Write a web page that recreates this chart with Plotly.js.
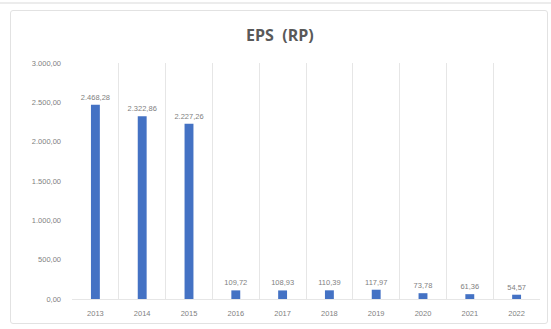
<!DOCTYPE html>
<html>
<head>
<meta charset="utf-8">
<script src="https://cdn.plot.ly/plotly-3.0.1.min.js"></script>
<style>
  html, body { margin: 0; padding: 0; background: #ffffff; }
  #wrap { position: relative; width: 551px; height: 329px; overflow: hidden; }
  #topline { position: absolute; left: 0; top: 2px; width: 551px; height: 2px; background: #ececec; }
  #card { position: absolute; left: 10px; top: 10px; width: 536px; height: 312px;
          border: 1px solid #e2e2e2; border-radius: 3px; background: #ffffff; }
  #chart { position: absolute; left: 0; top: 0; width: 551px; height: 329px; }
</style>
</head>
<body>
<div id="wrap">
  <div id="topline"></div>
  <div id="card"></div>
  <div id="chart"></div>
</div>
<script>
// Earnings per share by year (Rupiah)
const years = ["2013", "2014", "2015", "2016", "2017", "2018", "2019", "2020", "2021", "2022"];
const eps = [2468.28, 2322.86, 2227.26, 109.72, 108.93, 110.39, 117.97, 73.78, 61.36, 54.57];
const yTicks = [0, 500, 1000, 1500, 2000, 2500, 3000];

const smallFont = { family: "Liberation Sans, Arial, sans-serif", size: 7.5, color: "#7f7f7f" };

const trace = {
  type: "bar",
  x: years,
  y: eps,
  marker: { color: "#4472C4" },
  texttemplate: "%{y:,.2f}",
  textposition: "outside",
  constraintext: "none",
  cliponaxis: false,
  textfont: smallFont,
  hoverinfo: "x+y"
};

const layout = {
  width: 551,
  height: 329,
  paper_bgcolor: "rgba(0,0,0,0)",
  plot_bgcolor: "rgba(0,0,0,0)",
  separators: ",.",
  margin: { l: 72, r: 11, t: 63, b: 30 },
  bargap: 0.81,
  showlegend: false,
  title: {
    text: "EPS&nbsp;&nbsp;(RP)",
    x: 0.508,
    xanchor: "center",
    y: 0.893,
    yanchor: "middle",
    font: { family: "Open Sans, DejaVu Sans, sans-serif", size: 16, color: "#595959", weight: 700 }
  },
  xaxis: {
    type: "category",
    tickson: "boundaries",
    showgrid: true,
    gridcolor: "#e6e6e6",
    gridwidth: 1,
    ticks: "",
    showline: false,
    zeroline: false,
    ticklabelstandoff: 8,
    tickfont: smallFont
  },
  yaxis: {
    range: [0, 3000],
    tickvals: yTicks,
    tickformat: ",.2f",
    showgrid: false,
    zeroline: true,
    zerolinecolor: "#e6e6e6",
    zerolinewidth: 1,
    showline: false,
    ticks: "",
    ticklabelstandoff: 10,
    tickfont: smallFont
  }
};

Plotly.newPlot("chart", [trace], layout, { displayModeBar: false, staticPlot: true });
</script>
</body>
</html>
